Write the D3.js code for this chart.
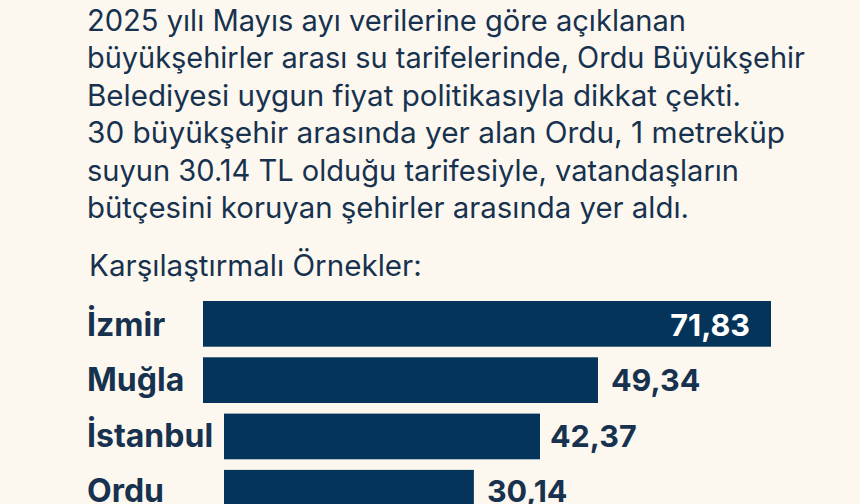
<!DOCTYPE html>
<html>
<head>
<meta charset="utf-8">
<script src="https://cdn.jsdelivr.net/npm/d3@7"></script>
<style>
html, body { margin: 0; padding: 0; background: #fdf8ef; overflow: hidden; }
svg { display: block; }
text { font-family: Inter, "Noto Sans", sans-serif; }
</style>
</head>
<body>
<svg id="chart" width="860" height="504"></svg>
<script>
var introLines = [
    "2025 yılı Mayıs ayı verilerine göre açıklanan",
    "büyükşehirler arası su tarifelerinde, Ordu Büyükşehir",
    "Belediyesi uygun fiyat politikasıyla dikkat çekti.",
    "30 büyükşehir arasında yer alan Ordu, 1 metreküp",
    "suyun 30.14 TL olduğu tarifesiyle, vatandaşların",
    "bütçesini koruyan şehirler arasında yer aldı."
];
var introWidths = [599, 718, 654, 698, 652, 602];
var sectionTitle = "Karşılaştırmalı Örnekler:";
var cities = ["İzmir", "Muğla", "İstanbul", "Ordu"];
var priceLabels = ["71,83", "49,34", "42,37", "30,14"];
// bar lengths as drawn in the picture, they don't quite follow the printed prices
var barValues = [71.83, 49.95, 39.96, 31.6];
var barStart = [203, 203, 224, 224];
var labelGap = [0, 13, 10, 13];

var navy = "#04345a";
var textColor = "#17324f";
var svg = d3.select("#chart");

svg.selectAll(".intro")
    .data(introLines)
    .enter().append("text")
    .attr("class", "intro")
    .attr("x", 87)
    .attr("y", function(d, i) { return 31 + i * 37.4; })
    .attr("font-size", 29.3)
    .attr("fill", textColor)
    .attr("textLength", function(d, i) { return introWidths[i]; })
    .attr("lengthAdjust", "spacingAndGlyphs")
    .text(function(d) { return d; });

svg.append("text")
    .attr("x", 89)
    .attr("y", 276)
    .attr("font-size", 29.6)
    .attr("fill", textColor)
    .text(sectionTitle);

var x = d3.scaleLinear().domain([0, 71.83]).range([0, 568]);
var y = d3.scaleBand().domain(cities).range([301, 515.6]).paddingInner(0.188).paddingOuter(0);
var baseline = d3.scalePoint().domain(cities).range([336, 502]);

var rows = svg.selectAll(".row")
    .data(cities)
    .enter().append("g")
    .attr("class", "row");

rows.append("rect")
    .attr("x", function(d, i) { return barStart[i]; })
    .attr("y", function(d) { return y(d); })
    .attr("width", function(d, i) { return x(barValues[i]); })
    .attr("height", y.bandwidth())
    .attr("fill", navy);

rows.append("text")
    .attr("x", 87)
    .attr("y", function(d) { return baseline(d); })
    .attr("font-size", 32)
    .attr("font-weight", 700)
    .attr("fill", textColor)
    .text(function(d) { return d; });

rows.append("text")
    .attr("x", function(d, i) {
        var end = barStart[i] + x(barValues[i]);
        return i == 0 ? end - 21 : end + labelGap[i];
    })
    .attr("y", function(d) { return baseline(d); })
    .attr("text-anchor", function(d, i) { return i == 0 ? "end" : "start"; })
    .attr("font-size", 30.5)
    .attr("font-weight", 700)
    .attr("fill", function(d, i) { return i == 0 ? "#ffffff" : textColor; })
    .text(function(d, i) { return priceLabels[i]; });
</script>
</body>
</html>
